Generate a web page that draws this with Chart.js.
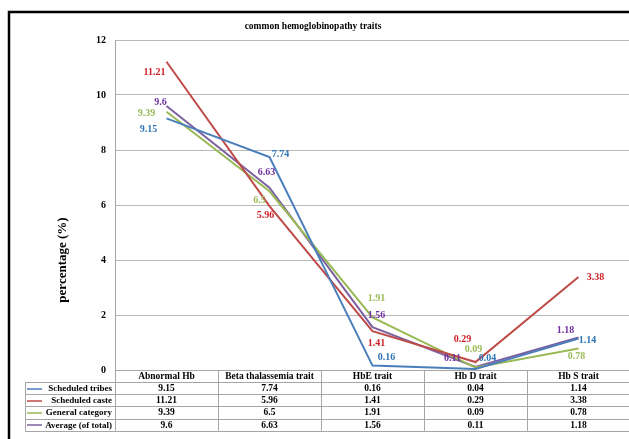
<!DOCTYPE html>
<html>
<head>
<meta charset="utf-8">
<script src="https://cdn.jsdelivr.net/npm/chart.js@4.4.1/dist/chart.umd.min.js"></script>
<style>
html,body{margin:0;padding:0;background:#fff;overflow:hidden;width:629px;height:439px;}
#wrap{position:absolute;left:0;top:0;width:640px;height:439px;}
</style>
</head>
<body>
<div id="wrap"><canvas id="c" width="640" height="439"></canvas></div>
<script>
const categories = ["Abnormal Hb", "Beta thalassemia trait", "HbE trait", "Hb D trait", "Hb S trait"];
const seriesNames = ["Scheduled tribes", "Scheduled caste", "General category", "Average (of total)"];
const scheduledTribes = [9.15, 7.74, 0.16, 0.04, 1.14];
const scheduledCaste = [11.21, 5.96, 1.41, 0.29, 3.38];
const generalCategory = [9.39, 6.5, 1.91, 0.09, 0.78];
const averageTotal = [9.6, 6.63, 1.56, 0.11, 1.18];
const yTicks = [0, 2, 4, 6, 8, 10, 12];
const chartTitle = "common hemoglobinopathy traits";
const yTitle = "percentage (%)";

const lineColors = ["#4a7ebb", "#be4b48", "#98b954", "#7d60a0"];
const labelColors = ["#2f74b5", "#d01f27", "#9bbb59", "#7030a0"];
// label offsets (px) relative to each point, per series
const labelOffsets = [
  [[-18, 11], [11, -3], [14, -8], [12, -10], [9, 2]],
  [[-12, 11], [-4, 9], [4, 12], [-13, -23], [17, 0]],
  [[-20, 2], [-10, 9], [4, -19], [-2, -18], [-2, 8]],
  [[-6, -4], [-3, -15], [4, -12], [-23, -9], [-13, -7]]
];
const allSeries = [scheduledTribes, scheduledCaste, generalCategory, averageTotal];
const SERIF = "'Liberation Serif', 'DejaVu Serif', serif";

const overlay = {
  id: 'overlay',
  afterDraw(chart) {
    const ctx = chart.ctx;
    const xs = chart.scales.x, ys = chart.scales.y;
    const area = chart.chartArea;
    ctx.save();
    // frame
    ctx.strokeStyle = '#000';
    ctx.lineWidth = 2.5;
    ctx.strokeRect(9, 12, 650, 440);
    // title
    ctx.fillStyle = '#000';
    ctx.font = "bold 9.5px " + SERIF;
    ctx.textAlign = 'center';
    ctx.textBaseline = 'middle';
    ctx.fillText(chartTitle, 313, 27);
    // y title
    ctx.save();
    ctx.translate(63, 260);
    ctx.rotate(-Math.PI / 2);
    ctx.font = "bold 13px " + SERIF;
    ctx.fillText(yTitle, 0, 0);
    ctx.restore();

    // data labels
    ctx.font = "bold 10px " + SERIF;
    allSeries.forEach((vals, si) => {
      ctx.fillStyle = labelColors[si];
      vals.forEach((v, i) => {
        const px = xs.getPixelForValue(i);
        const py = ys.getPixelForValue(v);
        const o = labelOffsets[si][i];
        ctx.fillText(String(v), px + o[0], py + o[1]);
      });
    });

    // table
    const catW = (area.right - area.left) / categories.length;
    const top = area.bottom;
    const headH = 12;
    const rowH = 12.2;
    const leftCol = 25;
    const tableBottom = top + headH + rowH * seriesNames.length;
    ctx.strokeStyle = '#a6a6a6';
    ctx.lineWidth = 1;
    ctx.beginPath();
    ctx.moveTo(area.left, top + 0.5); ctx.lineTo(area.right, top + 0.5);
    for (let r = 0; r <= seriesNames.length; r++) {
      const y = Math.round(top + headH + rowH * r) + 0.5;
      ctx.moveTo(leftCol, y); ctx.lineTo(area.right, y);
    }
    ctx.moveTo(leftCol + 0.5, top + headH); ctx.lineTo(leftCol + 0.5, tableBottom);
    for (let c = 0; c <= categories.length; c++) {
      const x = Math.round(area.left + catW * c) + 0.5;
      ctx.moveTo(x, top); ctx.lineTo(x, tableBottom);
    }
    ctx.stroke();

    ctx.fillStyle = '#000';
    ctx.font = "bold 9.5px " + SERIF;
    ctx.textAlign = 'center';
    categories.forEach((c, i) => {
      ctx.fillText(c, xs.getPixelForValue(i), top + headH / 2 + 0.5);
    });
    seriesNames.forEach((name, r) => {
      const cy = top + headH + rowH * r + rowH / 2 + 0.5;
      ctx.strokeStyle = lineColors[r];
      ctx.lineWidth = 1.5;
      ctx.beginPath();
      ctx.moveTo(27, Math.round(cy)); ctx.lineTo(42, Math.round(cy));
      ctx.stroke();
      ctx.fillStyle = '#000';
      ctx.textAlign = 'right';
      ctx.font = "bold 9px " + SERIF;
      ctx.fillText(name, 112, cy);
      ctx.font = "bold 9.5px " + SERIF;
      ctx.textAlign = 'center';
      allSeries[r].forEach((v, i) => {
        ctx.fillText(String(v), xs.getPixelForValue(i), cy);
      });
    });
    ctx.restore();
  }
};

new Chart(document.getElementById('c'), {
  type: 'line',
  data: {
    labels: categories,
    datasets: allSeries.map((vals, i) => ({
      label: seriesNames[i],
      data: vals,
      borderColor: lineColors[i],
      backgroundColor: lineColors[i],
      borderWidth: 2,
      pointRadius: 0,
      tension: 0,
      fill: false
    }))
  },
  options: {
    responsive: false,
    animation: false,
    layout: { padding: { left: 0, right: 10, top: 40, bottom: 69 } },
    plugins: { legend: { display: false }, title: { display: false }, tooltip: { enabled: false } },
    scales: {
      x: { type: 'category', offset: true, display: false },
      y: {
        min: 0, max: 12,
        afterFit(s) { s.width = 115; },
        afterBuildTicks(s) { s.ticks = yTicks.map(v => ({ value: v })); },
        ticks: { font: { family: SERIF, size: 10, weight: 'bold' }, color: '#000', padding: 9 },
        grid: { color: '#b8b8b8', drawTicks: false, lineWidth: 1 },
        border: { display: true, color: '#a6a6a6' }
      }
    }
  },
  plugins: [overlay]
});
</script>
</body>
</html>
